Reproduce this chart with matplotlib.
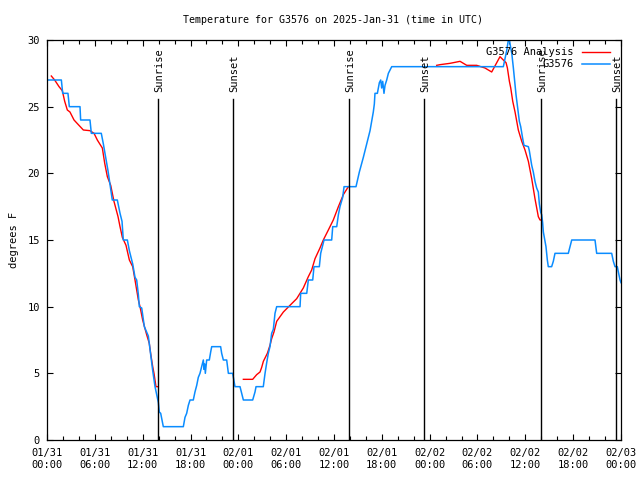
import numpy as np
import matplotlib
matplotlib.use("Agg")
import matplotlib.pyplot as plt


# ─── Data (hours since 2025-01-31 00:00 UTC, degrees F) ──────────────────────

obs_hours = [
    0.0, 1.80, 1.97, 2.63, 2.80, 4.14, 4.22, 5.39, 5.56, 6.81,
    7.07, 7.36, 7.65, 7.90, 8.19, 8.82, 9.16, 9.41, 9.57, 10.08,
    10.33, 10.75, 11.04, 11.25, 11.46, 11.58, 11.88, 12.21, 12.71, 12.92,
    13.26, 13.55, 13.97, 14.09, 14.26, 14.59, 17.10, 17.31, 17.52, 17.73,
    17.94, 18.35, 18.56, 18.78, 18.98, 19.19, 19.53, 19.61, 19.69, 19.78,
    19.86, 20.03, 20.36, 20.53, 20.66, 21.78, 21.91, 22.12, 22.54, 22.75,
    23.29, 23.46, 23.58, 24.21, 24.42, 24.63, 25.80, 26.09, 26.22, 27.13,
    27.35, 27.56, 27.76, 27.97, 28.18, 28.39, 28.60, 28.81, 31.74, 31.82,
    32.58, 32.78, 33.33, 33.49, 34.16, 34.33, 34.75, 35.71, 35.84, 36.34,
    36.55, 36.75, 37.09, 37.26, 38.76, 39.18, 39.68, 40.10, 40.52, 40.93,
    41.06, 41.14, 41.44, 41.69, 41.86, 41.98, 42.11, 42.27, 42.40, 42.61,
    42.82, 43.24, 57.24, 57.45, 57.66, 57.87, 57.95, 58.00, 58.17, 58.30,
    58.50, 58.71, 58.83, 59.00, 59.12, 59.25, 59.42, 59.67, 59.83, 60.38,
    60.50, 60.67, 60.80, 61.00, 61.21, 61.42, 61.63, 61.76, 61.92, 62.05,
    62.17, 62.26, 62.47, 62.59, 62.76, 62.88, 63.30, 63.51, 63.72, 65.39,
    65.60, 65.82, 68.74, 68.95, 70.83, 71.04, 71.25, 71.54, 71.67, 71.88,
    72.0,
]
obs_temp = [
    27.0, 27.0, 26.0, 26.0, 25.0, 25.0, 24.0, 24.0, 23.0, 23.0,
    22.2, 21.2, 20.2, 19.2, 18.0, 18.0, 17.0, 16.4, 15.0, 15.0,
    14.2, 13.2, 12.2, 12.0, 10.9, 10.0, 9.9, 8.5, 7.8, 6.8,
    5.2, 4.0, 2.8, 2.1, 2.0, 1.0, 1.0, 1.7, 2.0, 2.6,
    3.0, 3.0, 3.6, 4.1, 4.7, 5.0, 5.8, 6.0, 5.3, 5.7,
    5.0, 6.0, 6.0, 6.6, 7.0, 7.0, 6.5, 6.0, 6.0, 5.0,
    5.0, 4.4, 4.0, 4.0, 3.5, 3.0, 3.0, 3.6, 4.0, 4.0,
    5.0, 5.8, 6.5, 7.0, 8.0, 8.3, 9.5, 10.0, 10.0, 11.0,
    11.0, 12.0, 12.0, 13.0, 13.0, 14.0, 15.0, 15.0, 16.0, 16.0,
    16.9, 17.5, 18.2, 19.0, 19.0, 20.1, 21.2, 22.2, 23.2, 24.6,
    25.2, 26.0, 26.0, 26.8, 27.0, 26.4, 26.9, 26.0, 26.6, 27.0,
    27.5, 28.0, 28.0, 28.6, 29.2, 30.0, 30.5, 30.0, 29.4, 29.0,
    27.9, 26.6, 25.9, 25.1, 24.6, 23.9, 23.5, 22.6, 22.1, 22.0,
    21.7, 21.1, 20.6, 20.1, 19.4, 18.9, 18.6, 17.7, 17.1, 16.9,
    16.3, 15.6, 14.9, 14.5, 13.5, 13.0, 13.0, 13.4, 14.0, 14.0,
    14.5, 15.0, 15.0, 14.0, 14.0, 13.4, 13.0, 13.0, 12.6, 12.0,
    11.8,
]

# analysis has gaps (nan) where nothing was drawn
ana_hours = [
    0.54, 0.96, 1.51, 1.92, 2.22, 2.55, 2.88, 3.39, 4.01, 4.56,
    5.39, 5.90, 6.31, 6.94, 7.24, 7.57, 7.99, 8.40, 8.91, 9.16,
    9.45, 9.91, 10.33, 10.75, 11.04, 11.46, 11.67, 12.00, 12.50, 12.83,
    13.00, 13.26, 13.42, 13.67, 13.96, np.nan,
    24.63, 25.80, 26.30, 26.72, 26.93, 27.14, 27.64, 27.97, 28.18, 28.47,
    28.81, 29.23, 29.65, 30.48, 31.32, 32.15, 32.78, 33.20, 33.62, 34.24,
    34.66, 35.29, 35.91, 36.55, 37.17, 37.80, np.nan,
    48.88, 49.30, 50.55, 51.81, 52.65, 53.90, 54.94, 55.78, 56.82, 57.58,
    57.75, 58.00, 58.17, 58.42, 58.71, 59.12, 59.55, 59.96, 60.38, 60.80,
    61.21, 61.63, 61.84, 62.05,
]
ana_temp = [
    27.3, 27.0, 26.5, 26.2, 25.4, 24.75, 24.6, 24.0, 23.6, 23.25,
    23.2, 23.0, 22.5, 21.9, 20.75, 19.75, 19.1, 17.9, 16.75, 16.0,
    15.2, 14.6, 13.5, 13.0, 12.0, 10.5, 10.0, 9.0, 7.9, 7.25,
    6.5, 5.5, 5.0, 4.0, 4.0, np.nan,
    4.55, 4.55, 4.9, 5.1, 5.45, 5.9, 6.5, 7.1, 7.6, 8.1,
    8.9, 9.25, 9.6, 10.1, 10.6, 11.4, 12.25, 12.75, 13.6, 14.4,
    15.0, 15.75, 16.5, 17.5, 18.4, 19.0, np.nan,
    28.1, 28.15, 28.25, 28.4, 28.1, 28.1, 27.9, 27.6, 28.75, 28.3,
    27.9, 26.9, 26.4, 25.4, 24.6, 23.25, 22.4, 21.75, 20.9, 19.6,
    18.1, 16.75, 16.5, 16.5,
]

sun_hours  = [13.95, 23.33, 37.92, 47.35, 61.98, 71.38]
sun_labels = ["Sunrise", "Sunset", "Sunrise", "Sunset", "Sunrise", "Sunset"]

tick_hours  = list(range(0, 73, 6))
tick_labels = ["01/31\n00:00", "01/31\n06:00", "01/31\n12:00", "01/31\n18:00",
               "02/01\n00:00", "02/01\n06:00", "02/01\n12:00", "02/01\n18:00",
               "02/02\n00:00", "02/02\n06:00", "02/02\n12:00", "02/02\n18:00",
               "02/03\n00:00"]


# ─── Plot ─────────────────────────────────────────────────────────────────────

plt.rcParams["font.family"] = ["DejaVu Sans Mono"]
plt.rcParams["font.size"] = 7

fig = plt.figure(figsize=(6.4, 4.8), dpi=100)
ax = fig.add_axes([47 / 640, 40 / 480, 574 / 640, 400 / 480])

ax.plot(ana_hours, ana_temp, color="#ff0000", lw=1.0, label="G3576 Analysis")
ax.plot(obs_hours, obs_temp, color="#0a8cff", lw=1.1, label="G3576")

# sunrise / sunset markers
for h, lab in zip(sun_hours, sun_labels):
    ax.plot([h, h], [0, 25.6], color="black", lw=1.0)
    ax.text(h + 0.1, 26.1, lab, rotation=90, ha="center", va="bottom", fontsize=7.5)

ax.set_xlim(0, 72)
ax.set_ylim(0, 30)
ax.set_xticks(tick_hours)
ax.set_xticklabels(tick_labels)
ax.set_xticks(range(0, 73, 2), minor=True)
ax.set_yticks(range(0, 31, 5))

ax.tick_params(which="both", direction="in", top=True, right=True, labelsize=7.5)
ax.tick_params(which="major", length=4.5, width=0.8)
ax.tick_params(which="minor", length=3, width=0.8)
ax.tick_params(axis="x", pad=6)
ax.tick_params(axis="y", pad=5)

for sp in ax.spines.values():
    sp.set_linewidth(0.9)

ax.set_ylabel("degrees F", fontsize=7.5, labelpad=6)
fig.text(0.521, 1 - 20 / 480, "Temperature for G3576 on 2025-Jan-31 (time in UTC)",
         ha="center", va="center", fontsize=7.2)

ax.legend(loc="upper right", frameon=False, markerfirst=False, fontsize=7.5,
          handlelength=2.7, borderaxespad=0.3, labelspacing=0.2, handletextpad=0.8,
          bbox_to_anchor=(0.994, 1.0))

fig.savefig("out.png", dpi=100)
